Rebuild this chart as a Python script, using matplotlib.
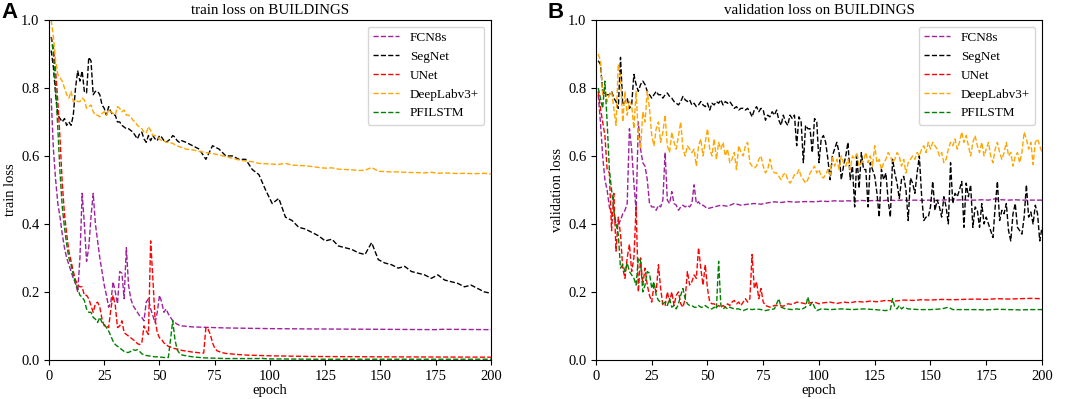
import matplotlib
matplotlib.use('Agg')
import matplotlib.pyplot as plt

plt.rcParams['font.family'] = ['Liberation Serif', 'DejaVu Serif']

# ---- train loss (panel A) ----
# epochs 1-60 every epoch, then a sparser tail
tr_fcn_y = [0.77, 0.62, 0.53, 0.46, 0.42, 0.37, 0.33, 0.30, 0.28, 0.26,
            0.24, 0.225, 0.20, 0.30, 0.49, 0.40, 0.29, 0.33, 0.42, 0.49,
            0.40, 0.35, 0.30, 0.26, 0.22, 0.19, 0.155, 0.17, 0.23, 0.20,
            0.165, 0.26, 0.255, 0.18, 0.33, 0.22, 0.18, 0.16, 0.15, 0.14,
            0.13, 0.125, 0.115, 0.17, 0.18, 0.15, 0.13, 0.11, 0.14, 0.19,
            0.17, 0.14, 0.15, 0.135, 0.125, 0.115, 0.11, 0.105, 0.102, 0.10]
tr_fcn_tail_x = [62, 65, 70, 75, 80, 90, 100, 120, 150, 175, 178, 200]
tr_fcn_tail_y = [0.099, 0.097, 0.096, 0.095, 0.094, 0.093, 0.092, 0.091, 0.090, 0.089, 0.090, 0.089]

tr_seg_y = [0.91, 0.86, 0.78, 0.72, 0.71, 0.70, 0.71, 0.69, 0.70, 0.69,
            0.72, 0.80, 0.85, 0.82, 0.85, 0.79, 0.785, 0.89, 0.88, 0.78,
            0.79, 0.79, 0.78, 0.75, 0.74, 0.72, 0.745, 0.73, 0.72, 0.72,
            0.70, 0.70, 0.69, 0.685, 0.68, 0.68, 0.675, 0.67, 0.66, 0.65,
            0.665, 0.67, 0.65, 0.64, 0.66, 0.645, 0.66, 0.65, 0.645, 0.66,
            0.655, 0.645, 0.64, 0.645, 0.65, 0.66, 0.655, 0.645, 0.64, 0.645]
tail3_x = list(range(62, 201, 3))
tr_seg_tail_y = [0.64, 0.63, 0.62, 0.59, 0.63, 0.62, 0.60, 0.60, 0.59, 0.59,
                 0.56, 0.545, 0.50, 0.46, 0.475, 0.42, 0.41, 0.39, 0.385, 0.375,
                 0.365, 0.35, 0.355, 0.335, 0.33, 0.325, 0.315, 0.31, 0.345, 0.295,
                 0.285, 0.28, 0.27, 0.275, 0.26, 0.255, 0.25, 0.24, 0.25, 0.235,
                 0.23, 0.225, 0.215, 0.22, 0.21, 0.20, 0.196]

tr_unet_y = [0.95, 0.92, 0.85, 0.76, 0.65, 0.52, 0.43, 0.37, 0.32, 0.29,
             0.26, 0.235, 0.22, 0.215, 0.215, 0.19, 0.19, 0.18, 0.16, 0.14,
             0.165, 0.17, 0.155, 0.12, 0.10, 0.10, 0.095, 0.15, 0.19, 0.16,
             0.095, 0.10, 0.115, 0.08, 0.075, 0.07, 0.065, 0.06, 0.055, 0.048,
             0.045, 0.05, 0.10, 0.085, 0.075, 0.35, 0.24, 0.12, 0.08, 0.065,
             0.06, 0.05, 0.045, 0.04, 0.038, 0.035, 0.033, 0.032, 0.03, 0.028]
tr_unet_tail_x = [62, 65, 68, 70, 71, 72, 73, 74, 75, 76, 78, 80, 85, 90, 100, 120, 150, 200]
tr_unet_tail_y = [0.026, 0.023, 0.021, 0.02, 0.095, 0.09, 0.075, 0.05, 0.035, 0.027,
                  0.022, 0.019, 0.016, 0.014, 0.012, 0.01, 0.009, 0.008]

tr_dl_y = [1.0, 0.95, 0.88, 0.84, 0.83, 0.82, 0.80, 0.78, 0.77, 0.79,
           0.76, 0.765, 0.76, 0.76, 0.77, 0.765, 0.74, 0.745, 0.75, 0.73,
           0.72, 0.72, 0.715, 0.725, 0.73, 0.72, 0.735, 0.73, 0.725, 0.72,
           0.745, 0.74, 0.73, 0.735, 0.72, 0.72, 0.715, 0.705, 0.70, 0.69,
           0.685, 0.68, 0.67, 0.667, 0.686, 0.675, 0.66, 0.66, 0.655, 0.65,
           0.645, 0.645, 0.64, 0.64, 0.638, 0.637, 0.633, 0.63, 0.627, 0.625]
tr_dl_tail_y = [0.62, 0.618, 0.613, 0.61, 0.607, 0.603, 0.598, 0.593, 0.588, 0.585,
                0.583, 0.578, 0.577, 0.576, 0.575, 0.578, 0.573, 0.572, 0.571, 0.569,
                0.566, 0.564, 0.565, 0.561, 0.56, 0.559, 0.557, 0.558, 0.566, 0.555,
                0.554, 0.553, 0.553, 0.552, 0.551, 0.551, 0.55, 0.552, 0.549, 0.55,
                0.549, 0.548, 0.549, 0.548, 0.548, 0.549, 0.547]

tr_pf_y = [0.95, 0.90, 0.80, 0.68, 0.55, 0.45, 0.39, 0.34, 0.30, 0.28,
           0.25, 0.225, 0.21, 0.19, 0.185, 0.175, 0.15, 0.14, 0.14, 0.125,
           0.12, 0.11, 0.125, 0.11, 0.105, 0.095, 0.085, 0.07, 0.055, 0.045,
           0.04, 0.035, 0.03, 0.025, 0.022, 0.022, 0.025, 0.03, 0.028, 0.03,
           0.025, 0.018, 0.015, 0.013, 0.012, 0.011, 0.01, 0.009, 0.009, 0.008,
           0.008, 0.007, 0.007, 0.007, 0.06, 0.115, 0.06, 0.03, 0.02, 0.015]
tr_pf_tail_x = [62, 65, 70, 80, 90, 95, 96, 97, 100, 120, 150, 200]
tr_pf_tail_y = [0.012, 0.009, 0.006, 0.004, 0.004, 0.004, 0.006, 0.004, 0.003, 0.002, 0.002, 0.002]

# ---- validation loss (panel B) ----
va_fcn_y = [0.78, 0.70, 0.60, 0.53, 0.50, 0.45, 0.43, 0.42, 0.40, 0.40,
            0.41, 0.43, 0.44, 0.46, 0.68, 0.62, 0.52, 0.44, 0.70, 0.62,
            0.58, 0.57, 0.53, 0.46, 0.45, 0.45, 0.44, 0.455, 0.45, 0.47,
            0.61, 0.47, 0.46, 0.495, 0.46, 0.455, 0.44, 0.45, 0.455, 0.45,
            0.455, 0.45, 0.46, 0.515, 0.46, 0.465, 0.455, 0.455, 0.45, 0.445]
va_fcn_tail_x = list(range(53, 201, 3))
va_fcn_tail_y = [0.45, 0.455, 0.452, 0.46, 0.455, 0.458, 0.46, 0.458, 0.462, 0.465,
                 0.463, 0.466, 0.464, 0.465, 0.466, 0.465, 0.467, 0.466, 0.468, 0.467,
                 0.468, 0.467, 0.469, 0.468, 0.469, 0.468, 0.47, 0.469, 0.47, 0.469,
                 0.47, 0.469, 0.47, 0.469, 0.47, 0.471, 0.47, 0.471, 0.47, 0.47,
                 0.471, 0.47, 0.474, 0.471, 0.47, 0.471, 0.47, 0.47, 0.47, 0.47]

va_seg_y = [0.88, 0.87, 0.79, 0.78, 0.78, 0.78, 0.79, 0.77, 0.76, 0.74,
            0.89, 0.75, 0.76, 0.77, 0.74, 0.75, 0.84, 0.81, 0.79, 0.81,
            0.82, 0.81, 0.79, 0.78, 0.77, 0.78, 0.79, 0.78, 0.78, 0.77,
            0.78, 0.785, 0.775, 0.77, 0.76, 0.755, 0.75, 0.76, 0.775, 0.765,
            0.76, 0.765, 0.75, 0.755, 0.745, 0.75, 0.76, 0.75, 0.745, 0.755,
            0.735, 0.755, 0.75, 0.76, 0.755, 0.765, 0.75, 0.76, 0.755, 0.76,
            0.75, 0.74, 0.745, 0.735, 0.74, 0.74, 0.735, 0.74, 0.73, 0.715,
            0.735, 0.745, 0.73, 0.74, 0.735, 0.705, 0.72, 0.715, 0.73, 0.72,
            0.735, 0.705, 0.69, 0.72, 0.70, 0.69, 0.72, 0.71, 0.72, 0.63,
            0.715, 0.70, 0.58, 0.69, 0.68, 0.68, 0.61, 0.71, 0.70, 0.58,
            0.65, 0.66, 0.64, 0.59, 0.53, 0.60, 0.62, 0.64, 0.61, 0.53,
            0.57, 0.60, 0.64, 0.53, 0.57, 0.45, 0.60, 0.505, 0.61, 0.56,
            0.56, 0.45, 0.58, 0.56, 0.54, 0.49, 0.42, 0.56, 0.53, 0.55,
            0.47, 0.42, 0.59, 0.55, 0.52, 0.475, 0.53, 0.54, 0.50, 0.41,
            0.535, 0.52, 0.49, 0.55, 0.60, 0.485, 0.41, 0.42, 0.42, 0.45,
            0.525, 0.44, 0.47, 0.45, 0.42, 0.48, 0.45, 0.40, 0.58, 0.46,
            0.49, 0.48, 0.50, 0.525, 0.39, 0.52, 0.48, 0.515, 0.39, 0.45,
            0.44, 0.39, 0.46, 0.40, 0.42, 0.40, 0.38, 0.36, 0.45, 0.525,
            0.41, 0.44, 0.43, 0.46, 0.38, 0.35, 0.43, 0.46, 0.39, 0.38,
            0.37, 0.42, 0.515, 0.42, 0.435, 0.40, 0.455, 0.43, 0.35, 0.39]

va_unet_y = [0.79, 0.74, 0.70, 0.66, 0.56, 0.55, 0.38, 0.49, 0.32, 0.42,
             0.37, 0.27, 0.24, 0.30, 0.34, 0.26, 0.30, 0.45, 0.20, 0.30,
             0.22, 0.27, 0.22, 0.19, 0.17, 0.22, 0.20, 0.28, 0.21, 0.16,
             0.16, 0.20, 0.17, 0.20, 0.16, 0.19, 0.20, 0.165, 0.155, 0.18,
             0.26, 0.22, 0.23, 0.25, 0.24, 0.33, 0.27, 0.22, 0.28, 0.21,
             0.17, 0.165, 0.165, 0.155, 0.16, 0.155, 0.16, 0.155, 0.165, 0.16,
             0.17, 0.175, 0.165, 0.17, 0.16, 0.17, 0.18, 0.17, 0.18, 0.31,
             0.21, 0.23, 0.18, 0.21, 0.17, 0.16]
va_unet_tail_x = [78, 80, 82, 84, 86, 88, 90, 92, 94, 96, 98, 100, 102,
                  105, 108, 111, 114, 117, 120, 123, 126,
                  130, 134, 138, 142, 146, 150,
                  155, 160, 165, 170, 175, 180, 185, 190, 195, 200]
va_unet_tail_y = [0.155, 0.16, 0.16, 0.158, 0.165, 0.163, 0.17, 0.168, 0.165, 0.168, 0.17, 0.165, 0.168,
                  0.17, 0.166, 0.17, 0.168, 0.172, 0.17, 0.173, 0.171,
                  0.175, 0.173, 0.176, 0.175, 0.177, 0.176,
                  0.178, 0.177, 0.178, 0.179, 0.178, 0.18, 0.179, 0.18, 0.181, 0.18]

va_dl_y = [0.90, 0.88, 0.78, 0.80, 0.76, 0.78, 0.79, 0.74, 0.69, 0.87,
           0.83, 0.70, 0.79, 0.72, 0.76, 0.75, 0.68, 0.79, 0.66, 0.62,
           0.73, 0.70, 0.79, 0.74, 0.66, 0.63, 0.68, 0.70, 0.64, 0.67,
           0.72, 0.63, 0.61, 0.67, 0.64, 0.62, 0.66, 0.70, 0.62, 0.60,
           0.63, 0.62, 0.61, 0.62, 0.57, 0.63, 0.65, 0.60, 0.64, 0.68,
           0.62, 0.60, 0.65, 0.59, 0.64, 0.62, 0.64, 0.60, 0.62, 0.58,
           0.59, 0.61, 0.56, 0.63, 0.61, 0.60, 0.63, 0.64, 0.58, 0.57,
           0.565, 0.57, 0.59, 0.60, 0.57, 0.55, 0.56, 0.59, 0.56, 0.55,
           0.55, 0.54, 0.53, 0.545, 0.55, 0.53, 0.52, 0.53, 0.545, 0.545,
           0.56, 0.54, 0.53, 0.52, 0.53, 0.55, 0.56, 0.57, 0.55, 0.56,
           0.54, 0.535, 0.545, 0.56, 0.545, 0.60, 0.57, 0.59, 0.56, 0.60,
           0.58, 0.57, 0.59, 0.56, 0.60, 0.59, 0.61, 0.57, 0.58, 0.585,
           0.61, 0.58, 0.60, 0.57, 0.63, 0.58, 0.59, 0.56, 0.58, 0.59,
           0.61, 0.60, 0.58, 0.59, 0.61, 0.60, 0.57, 0.59, 0.55, 0.58,
           0.59, 0.60, 0.59, 0.61, 0.60, 0.62, 0.63, 0.61, 0.64, 0.62,
           0.64, 0.63, 0.62, 0.60, 0.61, 0.58, 0.59, 0.62, 0.64, 0.63,
           0.65, 0.62, 0.64, 0.67, 0.64, 0.66, 0.63, 0.60, 0.64, 0.66,
           0.63, 0.61, 0.64, 0.60, 0.62, 0.64, 0.60, 0.58, 0.62, 0.64,
           0.61, 0.59, 0.61, 0.64, 0.60, 0.61, 0.57, 0.60, 0.61, 0.58,
           0.61, 0.67, 0.65, 0.62, 0.64, 0.575, 0.64, 0.65, 0.63, 0.61]

va_pf_y = [0.80, 0.77, 0.74, 0.82, 0.70, 0.56, 0.50, 0.44, 0.40, 0.37,
           0.27, 0.28, 0.26, 0.285, 0.26, 0.25, 0.24, 0.22, 0.30, 0.29,
           0.20, 0.22, 0.26, 0.255, 0.21, 0.23, 0.19, 0.175, 0.17, 0.165,
           0.17, 0.16, 0.18, 0.155, 0.16, 0.15, 0.165, 0.19, 0.21, 0.18,
           0.165, 0.16, 0.16, 0.155, 0.155, 0.16, 0.155, 0.155, 0.16, 0.155,
           0.15, 0.15, 0.155, 0.15, 0.29, 0.16, 0.15, 0.155, 0.15, 0.155]
va_pf_tail_x = [62, 64, 66, 68, 70, 72, 74, 76, 78, 80,
                82, 83, 85, 88, 90, 92, 94, 95, 96, 97,
                98, 99, 101, 105, 110, 115, 120, 125, 130, 132,
                133, 134, 135, 136, 137, 138, 140, 145, 150, 155,
                158, 160, 165, 170, 175, 180, 185, 190, 195, 200]
va_pf_tail_y = [0.15, 0.15, 0.145, 0.15, 0.148, 0.15, 0.148, 0.145, 0.148, 0.15,
                0.18, 0.155, 0.15, 0.148, 0.15, 0.148, 0.155, 0.185, 0.16, 0.17,
                0.155, 0.145, 0.15, 0.148, 0.15, 0.148, 0.15, 0.148, 0.145, 0.148,
                0.18, 0.155, 0.15, 0.16, 0.15, 0.155, 0.15, 0.148, 0.148, 0.15,
                0.155, 0.148, 0.148, 0.148, 0.147, 0.149, 0.148, 0.147, 0.148, 0.148]

names = ['FCN8s', 'SegNet', 'UNet', 'DeepLabv3+', 'PFILSTM']
colors = ['#a020a0', 'black', 'red', 'orange', 'green']


def ep(n):
    return list(range(1, n + 1))


train_series = [
    (ep(60) + tr_fcn_tail_x, tr_fcn_y + tr_fcn_tail_y),
    (ep(60) + tail3_x, tr_seg_y + tr_seg_tail_y),
    (ep(60) + tr_unet_tail_x, tr_unet_y + tr_unet_tail_y),
    (ep(60) + tail3_x, tr_dl_y + tr_dl_tail_y),
    (ep(60) + tr_pf_tail_x, tr_pf_y + tr_pf_tail_y),
]
val_series = [
    (ep(50) + va_fcn_tail_x, va_fcn_y + va_fcn_tail_y),
    (ep(200), va_seg_y),
    (ep(76) + va_unet_tail_x, va_unet_y + va_unet_tail_y),
    (ep(200), va_dl_y),
    (ep(60) + va_pf_tail_x, va_pf_y + va_pf_tail_y),
]

fig = plt.figure(figsize=(10.65, 3.99), dpi=100)
ax1 = fig.add_axes([0.046, 0.098, 0.415, 0.852])
ax2 = fig.add_axes([0.5596, 0.098, 0.4188, 0.852])


def draw_panel(ax, series, title, ylabel):
    for (x, y), name, c in zip(series, names, colors):
        ax.plot(x, y, '--', color=c, lw=1.0, label=name)
    ax.set_xlim(0, 200)
    ax.set_ylim(0, 1.0)
    ax.set_xticks([0, 25, 50, 75, 100, 125, 150, 175, 200])
    ax.set_yticks([0.0, 0.2, 0.4, 0.6, 0.8, 1.0])
    ax.tick_params(labelsize=10.5)
    ax.set_title(title, fontsize=10.8, pad=4)
    ax.set_xlabel('epoch', fontsize=10.5, labelpad=1)
    ax.set_ylabel(ylabel, fontsize=10.5, labelpad=3)
    ax.legend(loc='upper right', fontsize=9.5)


draw_panel(ax1, train_series, 'train loss on BUILDINGS', 'train loss')
draw_panel(ax2, val_series, 'validation loss on BUILDINGS', 'validation loss')

# panel letters
fig.text(0.001, 0.955, 'A', fontsize=16, fontweight='bold', family='Liberation Sans')
fig.text(0.514, 0.955, 'B', fontsize=16, fontweight='bold', family='Liberation Sans')

fig.savefig('out.png', dpi=100)
